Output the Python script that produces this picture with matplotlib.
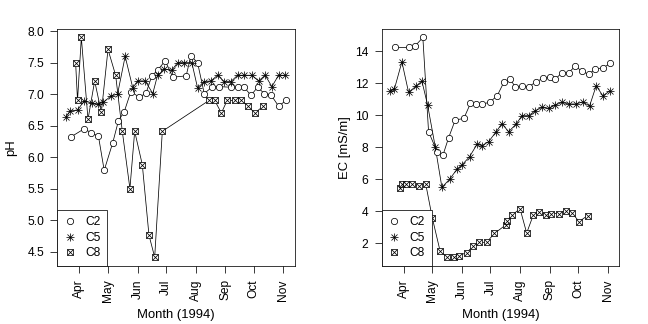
import numpy as np
import pandas as pd
import matplotlib
matplotlib.use('Agg')
import matplotlib.pyplot as plt
from matplotlib.lines import Line2D

plt.rcParams['font.family'] = ['Liberation Sans', 'DejaVu Sans']
plt.rcParams['font.size'] = 12

# sampling dates (1994, MM-DD) and values
c2_dates_ec = ['03-23', '04-06', '04-13', '04-21', '04-27', '05-06', '05-12', '05-18',
               '05-25', '06-03', '06-10', '06-16', '06-22', '06-30', '07-08', '07-15',
               '07-22', '07-27', '08-03', '08-10', '08-18', '08-25', '09-01', '09-07',
               '09-14', '09-21', '09-28', '10-05', '10-12', '10-19', '10-27', '11-04']
c2_ec = [14.23, 14.23, 14.33, 14.85, 8.97, 7.72, 7.49, 8.59, 9.70, 9.80, 10.74, 10.68,
         10.70, 10.80, 11.21, 12.05, 12.25, 11.74, 11.84, 11.77, 12.09, 12.30, 12.36,
         12.25, 12.65, 12.65, 13.06, 12.75, 12.55, 12.88, 12.96, 13.23]

c2_dates_ph = ['03-23', '04-06', '04-13', '04-21', '04-27', '05-06', '05-12', '05-18',
               '05-25', '06-03', '06-10', '06-16', '06-22', '06-30', '07-08', '07-22',
               '07-27', '08-03', '08-10', '08-18', '08-25', '09-07', '09-14', '09-21',
               '09-28', '10-05', '10-12', '10-19', '10-27', '11-04']
c2_ph = [6.32, 6.45, 6.39, 6.33, 5.79, 6.23, 6.58, 6.72, 7.04, 6.95, 7.02, 7.29, 7.38,
         7.53, 7.27, 7.29, 7.61, 7.50, 7.01, 7.11, 7.12, 7.11, 7.11, 7.11, 6.98, 7.11,
         7.01, 6.99, 6.81, 6.90]

c5_dates = ['03-18', '03-22', '03-30', '04-06', '04-14', '04-20', '04-26', '05-04',
            '05-11', '05-19', '05-27', '06-01', '06-09', '06-17', '06-22', '06-29',
            '07-07', '07-13', '07-20', '07-28', '08-03', '08-10', '08-17', '08-24',
            '08-31', '09-07', '09-14', '09-21', '09-29', '10-06', '10-13', '10-20',
            '10-27', '11-03']
c5_ph = [6.64, 6.73, 6.75, 6.89, 6.86, 6.84, 6.87, 6.97, 7.00, 7.60, 7.10, 7.21, 7.21,
         7.01, 7.30, 7.40, 7.38, 7.50, 7.50, 7.50, 7.10, 7.20, 7.21, 7.30, 7.20, 7.20,
         7.30, 7.30, 7.30, 7.21, 7.30, 7.12, 7.30, 7.30]
c5_ec = [11.52, 11.61, 13.33, 11.43, 11.82, 12.13, 10.63, 8.03, 5.50, 6.00, 6.64, 6.89,
         7.41, 8.20, 8.10, 8.35, 8.97, 9.48, 8.97, 9.45, 9.97, 9.97, 10.28, 10.49, 10.43,
         10.63, 10.80, 10.70, 10.70, 10.84, 10.57, 11.84, 11.21, 11.51]

c8_dates_ec = ['03-28', '03-30', '04-03', '04-10', '04-17', '04-24', '05-01', '05-09',
               '05-16', '05-24', '05-29', '06-06', '06-13', '06-19', '06-27', '07-05',
               '07-17', '07-18', '07-24', '08-01', '08-08', '08-15', '08-21', '08-28',
               '09-03', '09-11', '09-18', '09-25', '10-02', '10-11']
c8_ec = [5.48, 5.69, 5.69, 5.69, 5.58, 5.71, 3.57, 1.55, 1.14, 1.14, 1.24, 1.43, 1.84,
         2.07, 2.07, 2.62, 3.15, 3.40, 3.78, 4.17, 2.65, 3.78, 3.98, 3.78, 3.86, 3.86,
         4.04, 3.88, 3.36, 3.74]

c8_dates_ph = ['03-28', '03-30', '04-03', '04-10', '04-17', '04-24', '05-01', '05-09',
               '05-16', '05-24', '05-29', '06-06', '06-13', '06-19', '06-27', '08-15',
               '08-21', '08-28', '09-03', '09-11', '09-18', '09-25', '10-02', '10-11']
c8_ph = [7.50, 6.90, 7.90, 6.60, 7.21, 6.71, 7.71, 7.30, 6.41, 5.50, 6.41, 5.88, 4.76,
         4.41, 6.41, 6.90, 6.90, 6.70, 6.90, 6.90, 6.90, 6.81, 6.70, 6.81]

month_labels = ['Apr', 'May', 'Jun', 'Jul', 'Aug', 'Sep', 'Oct', 'Nov']
month_starts = ['04-01', '05-01', '06-01', '07-01', '08-01', '09-01', '10-01', '11-01']


def to_dates(lst):
    return pd.to_datetime(['1994-' + s for s in lst])


LW = 0.75


def circle(ax, x, y):
    ax.plot(x, y, color='k', lw=LW, zorder=2)
    ax.plot(x, y, ls='none', marker='o', ms=6.3, mfc='white', mec='k', mew=LW, zorder=3)


def asterisk(ax, x, y):
    ax.plot(x, y, color='k', lw=LW, zorder=2)
    ax.plot(x, y, ls='none', marker='+', ms=8.9, mec='k', mew=LW, zorder=3)
    ax.plot(x, y, ls='none', marker='x', ms=6.3, mec='k', mew=LW, zorder=3)


def boxx(ax, x, y):
    ax.plot(x, y, color='k', lw=LW, zorder=2)
    ax.plot(x, y, ls='none', marker='s', ms=5.6, mfc='white', mec='k', mew=LW, zorder=3)
    ax.plot(x, y, ls='none', marker='x', ms=5.6, mec='k', mew=LW, zorder=3)


def style(ax, all_x, all_y, yticks, ylabel, ylabel_x):
    x0, x1 = min(all_x), max(all_x)
    dx = (x1 - x0) * 0.04
    ax.set_xlim(x0 - dx, x1 + dx)
    y0, y1 = min(all_y), max(all_y)
    dy = (y1 - y0) * 0.04
    ax.set_ylim(y0 - dy, y1 + dy)
    ax.set_xticks(to_dates(month_starts))
    ax.set_xticklabels(month_labels, rotation=90)
    ax.set_yticks(yticks[0])
    ax.set_yticklabels(yticks[1])
    ax.tick_params(direction='out', length=7.2, width=LW, pad=6, labelsize=12)
    for s in ax.spines.values():
        s.set_linewidth(LW)
    ax.set_xlabel('Month (1994)', fontsize=13)
    ax.xaxis.set_label_coords(0.5, -0.18)
    ax.set_ylabel(ylabel, fontsize=13)
    ax.yaxis.set_label_coords(ylabel_x, 0.5)

    h2 = Line2D([], [], ls='none', marker='o', ms=6.3, mfc='white', mec='k', mew=LW)
    h5 = (Line2D([], [], ls='none', marker='+', ms=8.9, mec='k', mew=LW),
          Line2D([], [], ls='none', marker='x', ms=6.3, mec='k', mew=LW))
    h8 = (Line2D([], [], ls='none', marker='s', ms=5.6, mfc='white', mec='k', mew=LW),
          Line2D([], [], ls='none', marker='x', ms=5.6, mec='k', mew=LW))
    leg = ax.legend([h2, h5, h8], ['C2', 'C5', 'C8'], loc='lower left', borderaxespad=0,
                    fancybox=False, edgecolor='k', framealpha=1, handlelength=1.0,
                    handletextpad=0.8, borderpad=0.55, labelspacing=0.3, fontsize=12)
    leg.get_frame().set_linewidth(LW)


fig = plt.figure(figsize=(9, 4.5), dpi=72)
ax1 = fig.add_axes([0.0884, 0.1790, 0.3668, 0.7324])
ax2 = fig.add_axes([0.5890, 0.1790, 0.3667, 0.7324])

circle(ax1, to_dates(c2_dates_ph), c2_ph)
asterisk(ax1, to_dates(c5_dates), c5_ph)
boxx(ax1, to_dates(c8_dates_ph), c8_ph)
all_x1 = list(to_dates(c2_dates_ph)) + list(to_dates(c5_dates)) + list(to_dates(c8_dates_ph))
yt = np.arange(4.5, 8.01, 0.5)
style(ax1, all_x1, c2_ph + c5_ph + c8_ph, (yt, ['%.1f' % v for v in yt]), 'pH', -0.17)

circle(ax2, to_dates(c2_dates_ec), c2_ec)
asterisk(ax2, to_dates(c5_dates), c5_ec)
boxx(ax2, to_dates(c8_dates_ec), c8_ec)
all_x2 = list(to_dates(c2_dates_ec)) + list(to_dates(c5_dates)) + list(to_dates(c8_dates_ec))
yt2 = np.arange(2, 15, 2)
style(ax2, all_x2, c2_ec + c5_ec + c8_ec, (yt2, ['%d' % v for v in yt2]), 'EC [mS/m]', -0.13)

fig.savefig('out.png', dpi=72)
